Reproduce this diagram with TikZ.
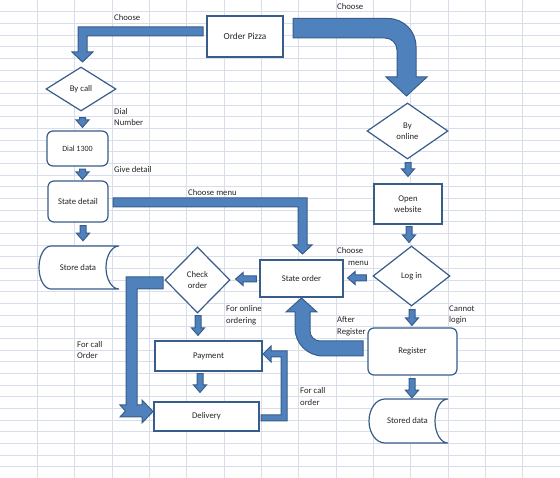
\documentclass[tikz,border=0pt]{standalone}
\usepackage{fontspec}
\setmainfont{Carlito}
\usetikzlibrary{shapes.geometric,calc}
\definecolor{arrowblue}{RGB}{79,129,189}
\definecolor{edgeblue}{RGB}{56,93,138}
\definecolor{gridgray}{RGB}{218,222,236}
\definecolor{inkgray}{RGB}{38,38,38}
% block arrow sizes
\newcommand{\bstem}{3pt}
\newcommand{\bhalf}{6.5pt}
\newcommand{\bhead}{7.5pt}
% data drum: x0 y0 x1 y1 left bulge right depth
\newcommand{\drumshape}[6]{%
  \pgfmathsetmacro{\dxa}{#1+#5}%
  \pgfmathsetmacro{\dxb}{#3-#6}%
  \pgfmathsetmacro{\dym}{(#2+#4)/2}%
  \pgfmathsetmacro{\dyu}{(#2+#4)/2-(#4-#2)/2*0.552}%
  \pgfmathsetmacro{\dyl}{(#2+#4)/2+(#4-#2)/2*0.552}%
  \pgfmathsetmacro{\dka}{#1+#5*0.448}%
  \pgfmathsetmacro{\dkb}{#3-#6*0.552}%
  \filldraw[drum] (\dxa,#2) -- (#3,#2)
    .. controls (\dkb,#2) and (\dxb,\dyu) .. (\dxb,\dym)
    .. controls (\dxb,\dyl) and (\dkb,#4) .. (#3,#4) -- (\dxa,#4)
    .. controls (\dka,#4) and (#1,\dyl) .. (#1,\dym)
    .. controls (#1,\dyu) and (\dka,#2) .. cycle;}
\tikzset{
  box/.style={draw=edgeblue,line width=1.2pt,fill=white,inner sep=1pt,
    text=inkgray,font=\fontsize{8.7}{10.7}\selectfont,align=center},
  roundbox/.style={box,rounded corners=6pt},
  decision/.style={box,diamond,inner sep=0pt},
  drum/.style={draw=edgeblue,line width=1.2pt,fill=white},
  drumtext/.style={inner sep=0pt,text=inkgray,font=\fontsize{8.7}{10.7}\selectfont},
  note/.style={inner sep=0pt,anchor=west,align=left,text=inkgray,
    font=\fontsize{8.7}{11.8}\selectfont},
  gridline/.style={draw=gridgray,line width=0.9pt},
  bigarrow/.style={fill=arrowblue,draw=edgeblue,line width=1pt,line join=miter},
  blockarrow/.style={bigarrow,to path={
    ($(\tikztostart)!\bstem!90:(\tikztotarget)$)
    -- ($($(\tikztotarget)!\bhead!(\tikztostart)$)!\bstem!90:(\tikztotarget)$)
    -- ($($(\tikztotarget)!\bhead!(\tikztostart)$)!\bhalf!90:(\tikztotarget)$)
    -- (\tikztotarget)
    -- ($($(\tikztotarget)!\bhead!(\tikztostart)$)!\bhalf!-90:(\tikztotarget)$)
    -- ($($(\tikztotarget)!\bhead!(\tikztostart)$)!\bstem!-90:(\tikztotarget)$)
    -- ($(\tikztostart)!\bstem!-90:(\tikztotarget)$) -- cycle}},
}
\begin{document}
\begin{tikzpicture}[x=1pt,y=-1pt]
\useasboundingbox (0,0) rectangle (560,478);
\fill[white] (0,0) rectangle (560,478);
% sheet grid
\foreach \i in {1,...,15}
  \draw[gridline] ({37.33*\i},0) -- ({37.33*\i},478);
\foreach \j in {1,...,40}
  \draw[gridline] (0,{11.67*\j}) -- (560,{11.67*\j});

% boxes
\node[box,minimum width=76pt,minimum height=41pt,font=\fontsize{9.3}{11}\selectfont]
  (pizza) at (245,36.5) {Order Pizza};
\node[decision,minimum width=70pt,minimum height=44pt] (bycall) at (81,89) {By call};
\node[roundbox,minimum width=61pt,minimum height=35pt,font=\fontsize{8}{10}\selectfont]
  (dial) at (77.5,148.5) {Dial 1300};
\node[roundbox,minimum width=60pt,minimum height=41pt] (statedetail) at (78,201.5) {State detail};
\drumshape{39}{246}{119}{289}{12}{13}
\node[drumtext] (storedata) at (78,268) {Store data};
\node[decision,minimum width=81pt,minimum height=56pt] (byonline) at (407.5,131) {By\\online};
\node[box,minimum width=68pt,minimum height=40pt] (website) at (408,204) {Open\\website};
\node[decision,minimum width=77pt,minimum height=60pt] (login) at (411.5,276) {Log in};
\node[box,minimum width=83pt,minimum height=37pt] (stateorder) at (301.5,278.5) {State order};
\node[decision,minimum width=65pt,minimum height=66pt] (checkorder) at (197.5,280) {Check\\order};
\node[box,minimum width=107pt,minimum height=30pt] (payment) at (208.5,356) {Payment};
\node[box,minimum width=105pt,minimum height=29pt] (delivery) at (206.5,416.5) {Delivery};
\node[roundbox,minimum width=89pt,minimum height=47pt] (register) at (412.5,351.5) {Register};
\drumshape{369}{399}{448}{443}{16}{13}
\node[drumtext] (storeddata) at (407.5,421) {Stored data};

% bent arrows
\filldraw[bigarrow] (203,27) -- (78,27) -- (78,52) -- (72,52) -- (82.5,62)
  -- (93,52) -- (87,52) -- (87,36) -- (203,36) -- cycle;
\filldraw[bigarrow] (293,18.5) -- (388,18.5)
  .. controls (403.5,18.5) and (416,31) .. (416,46.5) -- (416,77) -- (427,77)
  -- (406.5,96) -- (386,77) -- (397,77) -- (397,50)
  .. controls (397,43.4) and (391.6,38) .. (385,38) -- (293,38) -- cycle;
\filldraw[bigarrow] (113,198) -- (307,198) -- (307,245) -- (312,245) -- (302.5,254)
  -- (293,245) -- (298,245) -- (298,207) -- (113,207) -- cycle;
\filldraw[bigarrow] (163,277) -- (126,277) -- (126,405) -- (120,405) -- (125.5,411)
  -- (120,417) -- (142,417) -- (142,423) -- (153,411.5) -- (142,400) -- (142,405)
  -- (137,405) -- (137,289) -- (163,289) -- cycle;
\filldraw[bigarrow] (363,341) -- (320,341)
  .. controls (314.5,341) and (310,336.5) .. (310,331) -- (310,312) -- (317,312)
  -- (301.5,298) -- (286,312) -- (295,312) -- (295,328)
  .. controls (295,343.5) and (307.5,356) .. (323,356) -- (363,356) -- cycle;
\filldraw[bigarrow] (261,415) -- (281,415) -- (281,357) -- (271,357) -- (271,362)
  -- (263,354) -- (271,346) -- (271,351) -- (287,351) -- (287,421) -- (261,421) -- cycle;

% straight arrows
\path[blockarrow] ($(bycall.south)+(1.5,6)$) to ($(dial.north)+(5,-3)$);
\path[blockarrow] ($(dial.south)+(5,2.5)$) to ($(statedetail.north)+(4.5,-1)$);
\path[blockarrow] ($(statedetail.south)+(5,3)$) to ($(storedata.north)+(5,-24)$);
\path[blockarrow] ($(byonline.south)+(0.5,3)$) to ($(website.north)+(0,-7)$);
\path[blockarrow] ($(website.south)+(1,2)$) to ($(login.north)+(-2.5,-3)$);
\path[blockarrow] ($(login.west)+(-6,2)$) to ($(stateorder.east)+(4,-0.5)$);
\path[blockarrow] ($(stateorder.west)+(-3,0.5)$) to ($(checkorder.east)+(5,-1)$);
\path[blockarrow] ($(checkorder.south)+(0.5,2)$) to ($(payment.north)+(-10.5,-5)$);
\path[blockarrow] ($(payment.south)+(-8.5,2)$) to ($(delivery.north)+(-6.5,-9)$);
\path[blockarrow] ($(login.south)+(0.5,3)$) to ($(register.north)+(-0.5,-2)$);
\path[blockarrow] ($(register.south)+(-0.5,3)$) to ($(storeddata.north)+(4.5,-20)$);

% labels
\node[note] (lchoosea) at (114,18) {Choose};
\node[note] (lchooseb) at (337,7) {Choose};
\node[note] (ldial) at (114,117) {Dial\\Number};
\node[note] (lgive) at (114,170) {Give detail};
\node[note] (lmenua) at (188,193) {Choose menu};
\node[note] (lmenub) at (337,251) {Choose};
\node[note] (lmenuc) at (348,263) {menu};
\node[note] (lonline) at (226,315) {For online\\ordering};
\node[note] (lcalla) at (77,350) {For call\\Order};
\node[note] (lafter) at (337,326.5) {After\\Register};
\node[note] (lcannot) at (449,315) {Cannot\\login};
\node[note] (lcallb) at (300,396.5) {For call\\order};
\end{tikzpicture}
\end{document}
